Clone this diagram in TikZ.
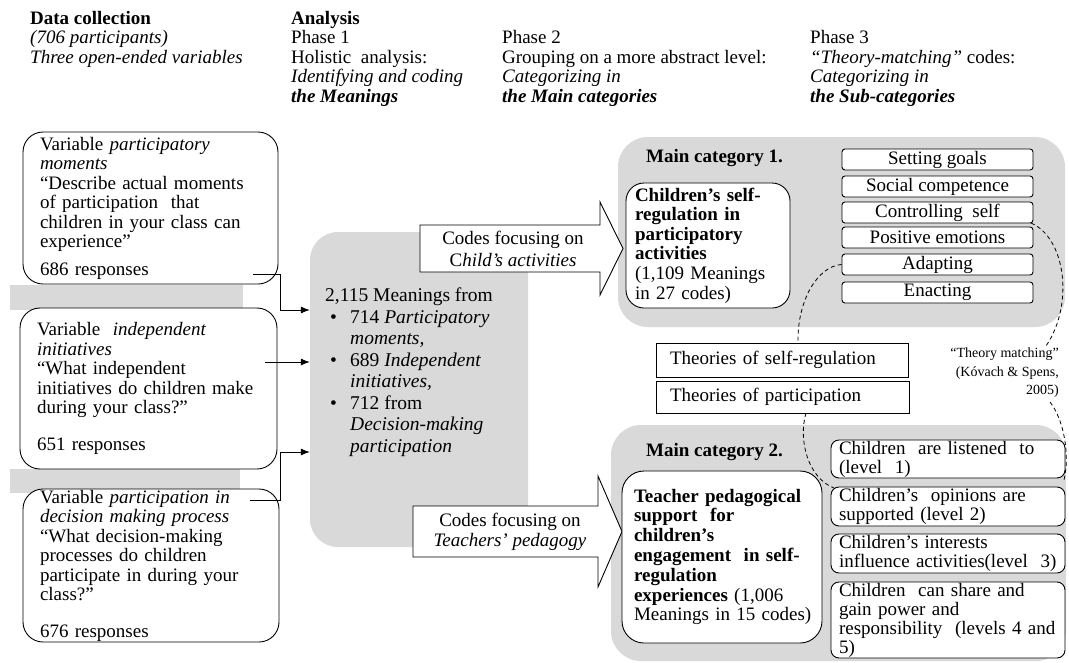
\documentclass[tikz,border=0pt]{standalone}
\usepackage{fontspec}
\setmainfont{Liberation Serif}
\usetikzlibrary{arrows.meta}
\definecolor{bg}{RGB}{217,217,217}
\begin{document}
\begin{tikzpicture}[x=1pt,y=-1pt,
  txt/.style={font=\fontsize{19}{19.5}\selectfont, inner sep=0pt},
  hdr/.style={txt, anchor=north west, align=left},
  varbox/.style={draw, line width=0.9pt, fill=white, rounded corners=20pt, align=left,
     inner xsep=17pt, inner ysep=0pt, font=\fontsize{19}{19.5}\selectfont},
  graybg/.style={fill=bg, rounded corners=30pt, inner sep=0pt},
  subbox/.style={draw, line width=0.9pt, fill=white, rounded corners=3pt, inner sep=0pt,
     minimum width=191pt, minimum height=21pt, font=\fontsize{19}{19.5}\selectfont},
  lvlbox/.style={draw, line width=0.9pt, fill=white, rounded corners=8pt, align=left,
     inner xsep=8pt, inner ysep=0pt, text width=218pt, minimum width=234pt,
     font=\fontsize{19}{19}\selectfont},
  thbox/.style={draw, line width=0.9pt, fill=white, align=left, inner xsep=14pt, inner ysep=0pt,
     font=\fontsize{19}{19.5}\selectfont},
  codearrow/.style={draw, fill=white, line width=0.9pt},
  conn/.style={line width=0.8pt, -{Latex[length=9pt,width=7pt]}},
  dashcurve/.style={line width=0.8pt, dash pattern=on 4pt off 3pt}
]
\useasboundingbox (0,0) rectangle (1069,662);

% headers
\node[hdr] (h1) at (30,11) {\textbf{Data collection}\\\textit{(706 participants)}\\\textit{Three open-ended variables}};
\node[hdr] (h2) at (291,11) {\textbf{Analysis}\\Phase 1\\Holistic\ \ analysis:\\\textit{Identifying and coding}\\\textbf{\textit{the Meanings}}};
\node[hdr] (h3) at (502,30.5) {Phase 2\\Grouping on a more abstract level:\\\textit{Categorizing in}\\\textbf{\textit{the Main categories}}};
\node[hdr] (h4) at (810,30.5) {Phase 3\\\textit{“Theory-matching”} codes:\\\textit{Categorizing in}\\\textbf{\textit{the Sub-categories}}};

% gray backgrounds
\path[fill=bg] (10,285) rectangle (243,310);
\path[fill=bg] (10,469) rectangle (240,493);
\node[graybg, rounded corners=28pt, minimum width=218pt, minimum height=315pt] (mbox) at (419,389.5) {};
\node[graybg, minimum width=447pt, minimum height=190pt] (mc1) at (841.5,232) {};
\node[graybg, minimum width=455pt, minimum height=236pt] (mc2) at (838.5,543) {};

% variable boxes
\node[varbox, minimum width=255pt, minimum height=152pt, text width=221pt] (v1) at (150.5,208)
 {Variable \textit{participatory}\\\textit{moments}\\“Describe actual moments\\of participation\ \ that\\children in your class can\\experience”\\[8pt]686 responses};
\node[varbox, minimum width=257pt, minimum height=161pt, text width=223pt] (v2) at (148.5,388.5)
 {Variable\ \ \textit{independent}\\\textit{initiatives}\\“What independent\\initiatives do children make\\during your class?”\\[17pt]651 responses};
\node[varbox, minimum width=256pt, minimum height=153pt, text width=222pt] (v3) at (151,565.5)
 {Variable \textit{participation in}\\\textit{decision making process}\\“What decision-making\\processes do children\\participate in during your\\class?”\\[17pt]676 responses};

% meanings text
\node[hdr, font=\fontsize{19.5}{21.5}\selectfont] (mtxt) at (325,288)
 {2,115 Meanings from\\
  \hspace*{5pt}\makebox[20pt][l]{\textbullet}714 \textit{Participatory}\\
  \hspace*{25pt}\textit{moments,}\\
  \hspace*{5pt}\makebox[20pt][l]{\textbullet}689 \textit{Independent}\\
  \hspace*{25pt}\textit{initiatives,}\\
  \hspace*{5pt}\makebox[20pt][l]{\textbullet}712 from\\
  \hspace*{25pt}\textit{Decision-making}\\
  \hspace*{25pt}\textit{participation}};

% code arrows
\draw[codearrow] (420,225) -- (600,225) -- (600,202) -- (623,248.5) -- (600,295) -- (600,272) -- (420,272) -- cycle;
\node[txt, align=center, font=\fontsize{19}{22}\selectfont] (a1) at (513,249) {Codes focusing on\\C\textit{hild’s activities}};
\draw[codearrow] (413,506) -- (598,506) -- (598,476) -- (622,531.5) -- (598,587) -- (598,557) -- (413,557) -- cycle;
\node[txt, align=center, font=\fontsize{19}{20}\selectfont] (a2) at (510,532) {Codes focusing on\\\textit{Teachers’ pedagogy}};

% main category 1
\node[txt, anchor=west, font=\bfseries\fontsize{19}{19.5}\selectfont] (mc1t) at (646,158) {Main category 1.};
\node[varbox, rounded corners=18pt, minimum width=164pt, minimum height=125pt, text width=146pt, inner xsep=9pt,
  font=\fontsize{19}{19.6}\selectfont] (cs) at (708,245.5)
 {\textbf{Children’s self-}\\\textbf{regulation in}\\\textbf{participatory}\\\textbf{activities}\\(1,109 Meanings\\in 27 codes)};
\node[subbox] (sg) at (937.5,159.5) {Setting goals};
\node[subbox] (sc) at (937.5,186.5) {Social competence};
\node[subbox] (cself) at (937.5,212.5) {Controlling\ \ self};
\node[subbox] (pe) at (937.5,237.5) {Positive emotions};
\node[subbox] (ad) at (937.5,264.5) {Adapting};
\node[subbox] (en) at (937.5,292.5) {Enacting};

% theories
\node[thbox, minimum width=252pt, minimum height=34pt, text width=224pt] (tsr) at (782,360) {Theories of self-regulation};
\node[thbox, minimum width=253pt, minimum height=32pt, text width=225pt] (tpa) at (782.5,397) {Theories of participation};

% main category 2
\node[txt, anchor=west, font=\bfseries\fontsize{19}{19.5}\selectfont] (mc2t) at (646,452) {Main category 2.};
\node[varbox, rounded corners=22pt, minimum width=200pt, minimum height=172pt, text width=184pt, inner xsep=8pt,
  font=\fontsize{19}{19.8}\selectfont] (tp) at (722,557)
 {\hspace*{4pt}\textbf{Teacher pedagogical}\\\hspace*{4pt}\textbf{support\ \ for}\\\hspace*{4pt}\textbf{children’s}\\\hspace*{4pt}\textbf{engagement\ \ in self-}\\\hspace*{4pt}\textbf{regulation}\\\hspace*{4pt}\textbf{experiences} (1,006\\\hspace*{4pt}Meanings in 15 codes)};
\node[lvlbox, minimum height=38pt] (l1) at (948,459) {Children\ \ are listened\ \ to\\(level\ \ 1)};
\node[lvlbox, minimum height=39pt] (l2) at (948,506.5) {Children’s\ \ opinions are\\supported (level 2)};
\node[lvlbox, minimum height=39pt] (l3) at (948,553.5) {Children’s interests\\influence activities(level\ \ 3)};
\node[lvlbox, minimum height=76pt] (l4) at (948,620) {Children\ \ can share and\\gain power and\\responsibility\ \ (levels 4 and\\5)};

% theory matching dashed loop
\coordinate (dA2) at (798,343);
\coordinate (dB1) at (806,413);
\coordinate (dB2) at (834,488);
\coordinate (dC1) at (1031,223);
\coordinate (dC2) at (1046,346);
\coordinate (dD1) at (1050,402);
\coordinate (dD2) at (1064,480);
\draw[dashcurve] (ad.west) .. controls (818,266) and (797,300) .. (dA2);
\draw[dashcurve] (dB1) .. controls (798,440) and (808,478) .. (dB2);
\draw[dashcurve] (dC1) .. controls (1066,238) and (1074,305) .. (dC2);
\draw[dashcurve] (dD1) .. controls (1064,420) and (1070,455) .. (dD2);
\node[anchor=north east, align=right, inner sep=0pt, font=\fontsize{14}{18.5}\selectfont] (tm) at (1059,348)
 {“Theory matching”\\(Kóvach \& Spens,\\2005)};

% connectors
\coordinate (c1s) at (253,274);
\coordinate (k1) at (280,310);
\draw[conn] (c1s) -| (k1) -- (k1 -| mbox.west);
\coordinate (c2s) at (265,362);
\draw[conn] (c2s) -- (c2s -| mbox.west);
\coordinate (c3s) at (250,500);
\coordinate (k3) at (280,452);
\draw[conn] (c3s) -| (k3) -- (k3 -| mbox.west);
\end{tikzpicture}
\end{document}
